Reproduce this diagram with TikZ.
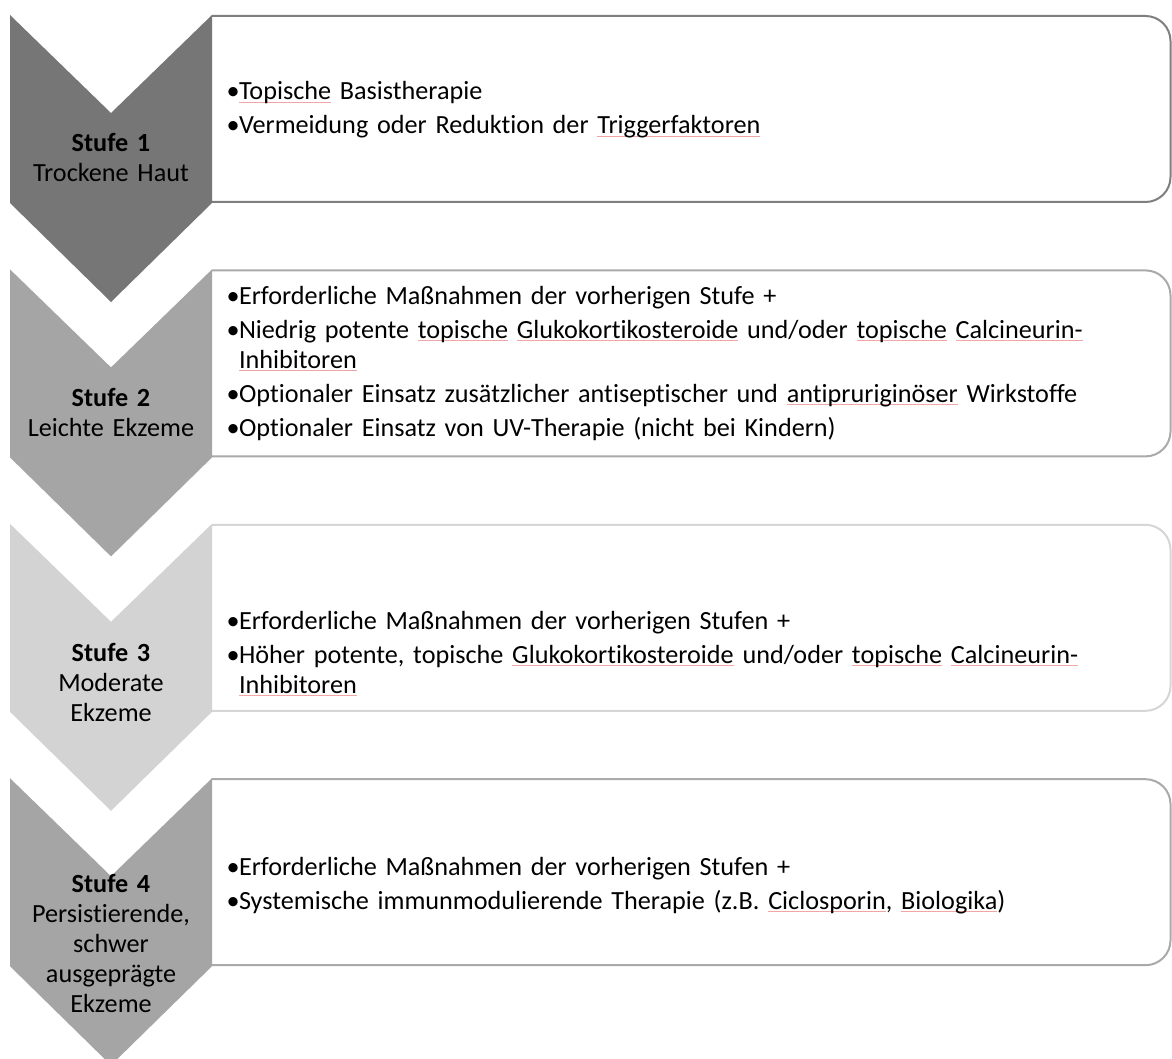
\documentclass[tikz,border=0pt]{standalone}
\usepackage{fontspec}
\setmainfont{Carlito}[Ligatures={NoCommon}]
\definecolor{splred}{RGB}{242,165,165}
\definecolor{cA}{RGB}{118,118,118}
\definecolor{cB}{RGB}{165,165,165}
\definecolor{cC}{RGB}{211,211,211}
\definecolor{bA}{RGB}{127,127,127}
\definecolor{bB}{RGB}{170,170,170}
\definecolor{bC}{RGB}{214,214,214}
\newsavebox\splbox
\newcommand\spl[1]{\sbox\splbox{#1}\rlap{\color{splred}\rule[-3.2pt]{\wd\splbox}{1pt}}\usebox\splbox}
\newcommand\bul{\makebox[12.3pt][l]{•}}
\newcommand\cont{\hspace*{12.3pt}}
\tikzset{
  boxtxt/.style={font=\fontsize{26.2pt}{30pt}\selectfont, anchor=base west, inner sep=0pt, text width=940pt, align=left},
  lbl/.style={font=\fontsize{26.2pt}{30pt}\selectfont, anchor=base, inner sep=0pt, text width=200pt, align=center},
  stepbox/.style={line width=2pt, fill=white, rounded corners=25pt},
}
\newcommand\chev[2]{% top, colour
  \fill[#2] (10,#1) -- (111,#1+98) -- (212,#1) -- (212,#1+188) -- (111,#1+287) -- (10,#1+188) -- cycle;}
\begin{document}
\begin{tikzpicture}[x=1pt,y=-1pt]
\useasboundingbox[fill=white] (0,0) rectangle (1172,1059);
% boxes
\draw[stepbox, draw=bA] (212,16) -- (1170.5,16) -- (1170.5,202) -- (212,202);
\draw[stepbox, draw=bB] (212,270.4) -- (1170.5,270.4) -- (1170.5,456.4) -- (212,456.4);
\draw[stepbox, draw=bC] (212,524.8) -- (1170.5,524.8) -- (1170.5,710.8) -- (212,710.8);
\draw[stepbox, draw=bB] (212,779.2) -- (1170.5,779.2) -- (1170.5,965.2) -- (212,965.2);
% chevrons
\chev{15}{cA}
\chev{269.4}{cB}
\chev{523.8}{cC}
\chev{778.2}{cB}
% chevron labels
\node[lbl] (l1) at (111,152) {\textbf{Stufe 1}\\Trockene Haut};
\node[lbl] (l2) at (111,406) {\textbf{Stufe 2}\\Leichte Ekzeme};
\node[lbl] (l3) at (111,661) {\textbf{Stufe 3}\\Moderate\\Ekzeme};
\node[lbl] (l4) at (111,892) {\textbf{Stufe 4}\\Persistierende,\\schwer\\ausgeprägte\\Ekzeme};
% box texts
\node[boxtxt] (t1) at (226.5,99.5) {\bul\spl{Topische} Basistherapie\\[4pt]
  \bul Vermeidung oder Reduktion der \spl{Triggerfaktoren}};
\node[boxtxt] (t2) at (226.5,304) {\bul Erforderliche Maßnahmen der vorherigen Stufe +\\[4pt]
  \bul Niedrig potente \spl{topische} \spl{Glukokortikosteroide} und/oder \spl{topische} \spl{Calcineurin-}\\
  \cont\spl{Inhibitoren}\\[4pt]
  \bul Optionaler Einsatz zusätzlicher antiseptischer und \spl{antipruriginöser} Wirkstoffe\\[4pt]
  \bul Optionaler Einsatz von UV-Therapie (nicht bei Kindern)};
\node[boxtxt] (t3) at (226.5,629) {\bul Erforderliche Maßnahmen der vorherigen Stufen +\\[4pt]
  \bul Höher potente, topische \spl{Glukokortikosteroide} und/oder \spl{topische} \spl{Calcineurin-}\\
  \cont\spl{Inhibitoren}};
\node[boxtxt] (t4) at (226.5,875) {\bul Erforderliche Maßnahmen der vorherigen Stufen +\\[4pt]
  \bul Systemische immunmodulierende Therapie (z.B. \spl{Ciclosporin}, \spl{Biologika})};
\end{tikzpicture}
\end{document}
